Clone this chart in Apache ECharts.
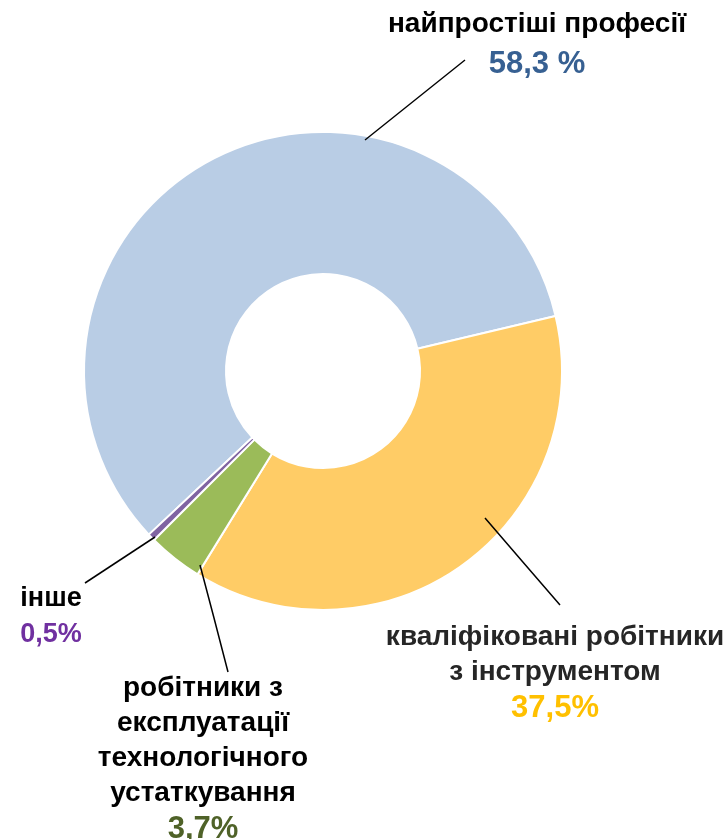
<!DOCTYPE html>
<html>
<head>
<meta charset="utf-8">
<script src="https://cdn.jsdelivr.net/npm/echarts@6/dist/echarts.min.js"></script>
<style>
  html, body { margin: 0; padding: 0; background: #fff; }
  #main { width: 728px; height: 839px; }
</style>
</head>
<body>
<div id="main"></div>
<script>
// категорії та частки (%)
var categories = [
    'найпростіші професії',
    'кваліфіковані робітники\nз інструментом',
    'робітники з\nексплуатації\nтехнологічного\nустаткування',
    'інше'
];
var values = [58.3, 37.5, 3.7, 0.5];
var valueLabels = ['58,3 %', '37,5%', '3,7%', '0,5%'];

var sliceColors = ['#B9CDE5', '#FFCC66', '#9BBB59', '#8064A2'];
var valueColors = ['#376092', '#FFC000', '#4F6228', '#7030A0'];
var textColors = ['#000000', '#262626', '#000000', '#000000'];

// розміщення підписів (центр блоку тексту, верх) і виносок
var labelPlaces = [
    { x: 537, y: 7, pLine: 45, line: [[365, 140], [415, 100], [465, 60]] },
    { x: 555, y: 620, pLine: 37, line: [[485, 518], [522, 561], [560, 605]] },
    { x: 203, y: 671, pLine: 37, line: [[200, 565], [214, 618], [228, 672]] },
    { x: 51, y: 581, pLine: 37, line: [[155, 537], [120, 560], [85, 583]] }
];

var fontFamily = '"Liberation Sans", Arial, sans-serif';

var myChart = echarts.init(document.getElementById('main'), null, { renderer: 'canvas' });

var data = [];
var labelData = [];
for (var i = 0; i < values.length; i++) {
    data.push({
        name: categories[i],
        value: values[i],
        itemStyle: { color: sliceColors[i] }
    });
    labelData.push({
        name: categories[i],
        value: values[i]
    });
}

var rich = {};
for (var i = 0; i < values.length; i++) {
    rich['t' + i] = {
        fontSize: i == 3 ? 27 : 28,
        fontWeight: 'bold',
        fontFamily: fontFamily,
        color: textColors[i],
        lineHeight: 35,
        align: 'center'
    };
    rich['p' + i] = {
        fontSize: i == 3 ? 27 : 31,
        fontWeight: 'bold',
        fontFamily: fontFamily,
        color: valueColors[i],
        lineHeight: labelPlaces[i].pLine,
        align: 'center'
    };
}

var pieCenter = [323, 371];
var pieRadius = [97, 239];
var pieStart = 223.2;

var option = {
    backgroundColor: '#ffffff',
    animation: false,
    series: [
        // кільце
        {
            type: 'pie',
            center: pieCenter,
            radius: pieRadius,
            startAngle: pieStart,
            clockwise: true,
            avoidLabelOverlap: false,
            itemStyle: {
                borderColor: '#ffffff',
                borderWidth: 2
            },
            label: { show: false },
            labelLine: { show: false },
            emphasis: { disabled: true },
            silent: true,
            data: data
        },
        // підписи з виносками поверх кільця
        {
            type: 'pie',
            z: 5,
            center: pieCenter,
            radius: pieRadius,
            startAngle: pieStart,
            clockwise: true,
            avoidLabelOverlap: false,
            itemStyle: {
                color: 'rgba(0,0,0,0)',
                borderWidth: 0
            },
            label: {
                show: true,
                position: 'outside',
                rich: rich,
                formatter: function (p) {
                    var lines = p.name.split('\n');
                    var s = [];
                    for (var k = 0; k < lines.length; k++) {
                        s.push('{t' + p.dataIndex + '|' + lines[k] + '}');
                    }
                    s.push('{p' + p.dataIndex + '|' + valueLabels[p.dataIndex] + '}');
                    return s.join('\n');
                }
            },
            labelLine: {
                show: true,
                lineStyle: { color: '#000000', width: 1.5 }
            },
            labelLayout: function (params) {
                var place = labelPlaces[params.dataIndex];
                return {
                    x: place.x,
                    y: place.y,
                    align: 'center',
                    verticalAlign: 'top',
                    labelLinePoints: place.line
                };
            },
            emphasis: { disabled: true },
            silent: true,
            data: labelData
        }
    ]
};

myChart.setOption(option);
</script>
</body>
</html>
